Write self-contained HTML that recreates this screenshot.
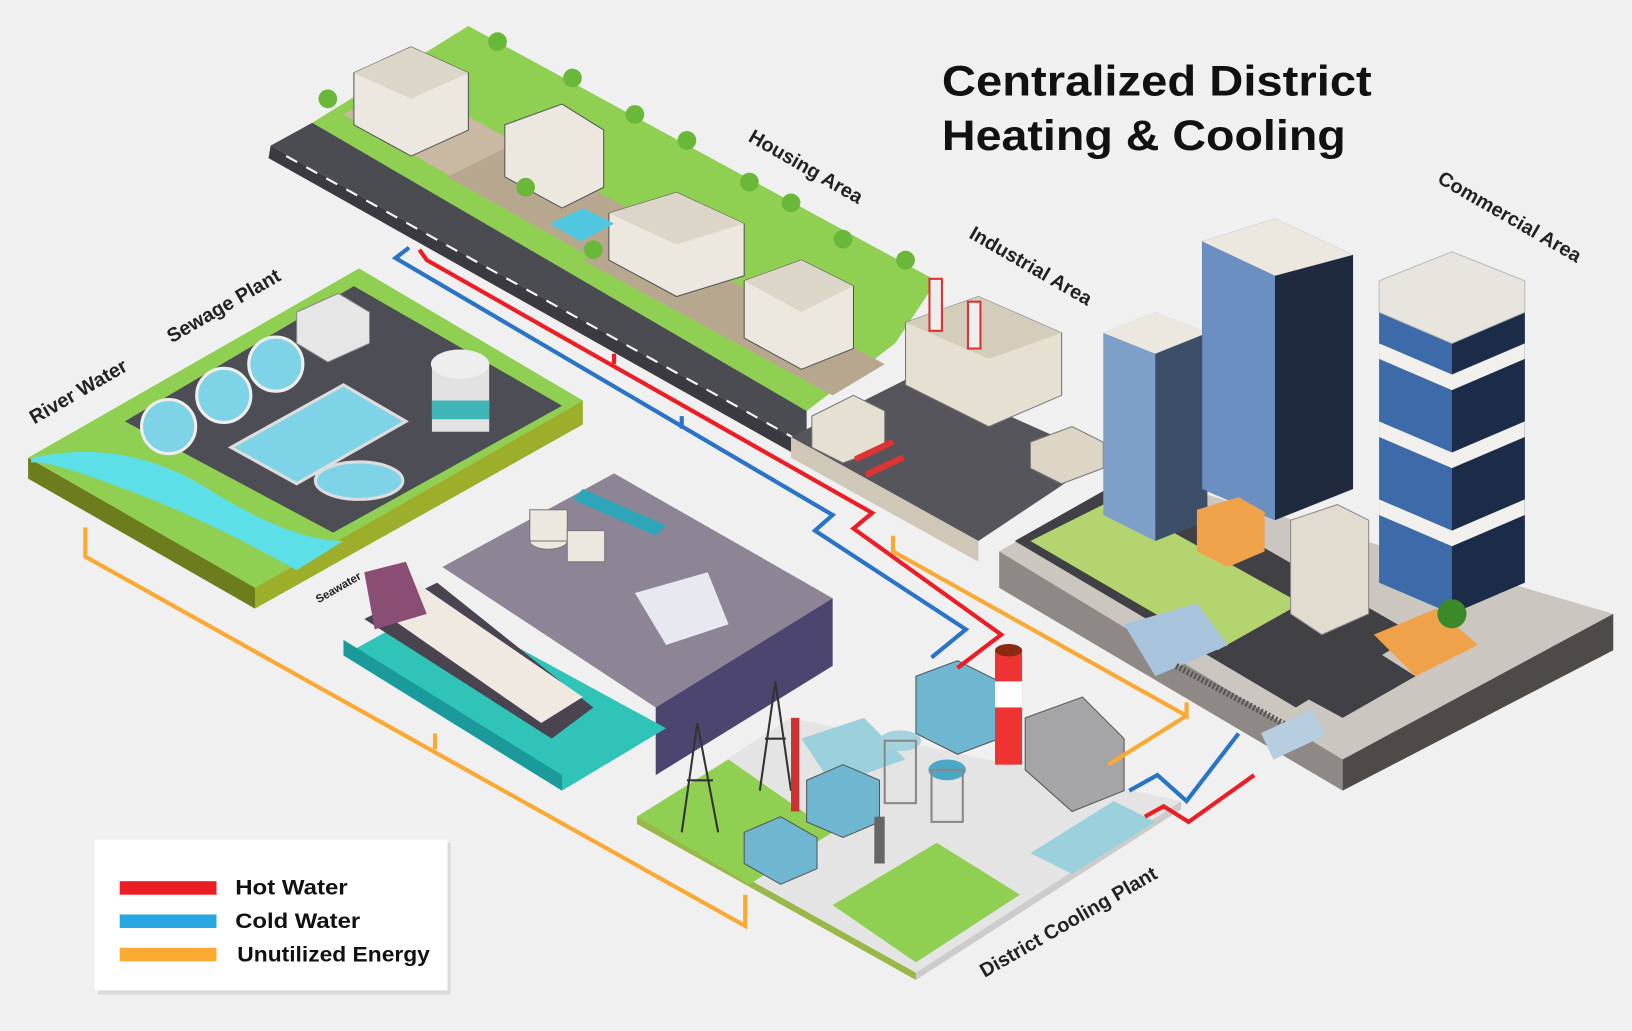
<!DOCTYPE html>
<html><head><meta charset="utf-8"><style>
html,body{margin:0;padding:0;background:#f0f0f0;}
svg{display:block;}
text{font-family:"Liberation Sans",sans-serif;font-weight:bold;}
</style></head><body>
<svg width="1632" height="1031" viewBox="0 0 1568 991" preserveAspectRatio="none" xmlns="http://www.w3.org/2000/svg">
<rect width="1568" height="991" fill="#f0f0f1"/>

<!-- Housing area -->
<polygon points="300,118 450,25 900,270 860,330 775,395" fill="#8fcf52"/>
<polygon points="260,140 300,118 775,395 775,428" fill="#4b4b52"/>
<polygon points="260,140 775,428 770,440 258,152" fill="#3a3a40"/>
<polyline points="275,150 770,425" stroke="#fff" stroke-width="2" stroke-dasharray="12,10" fill="none"/>
<polygon points="330,110 460,185 520,150 390,80" fill="#c9b9a3"/>
<polygon points="430,170 600,265 660,230 490,140" fill="#b8a78f"/>
<polygon points="560,250 800,380 850,350 610,220" fill="#b8a78f"/>
<g fill="#ece8df" stroke="#555" stroke-width="1">
<polygon points="340,70 395,45 450,70 450,125 395,150 340,120"/>
<polygon points="485,120 540,100 580,125 580,180 540,200 485,170"/>
<polygon points="585,205 650,185 715,215 715,265 650,285 585,250"/>
<polygon points="715,270 770,250 820,275 820,335 770,355 715,325"/>
</g>
<g fill="#dcd6c8"><polygon points="340,70 395,45 450,70 395,95"/><polygon points="585,205 650,185 715,215 650,235"/><polygon points="715,270 770,250 820,275 770,300"/></g>
<g fill="#6ab83a"><circle cx="478" cy="40" r="9"/><circle cx="550" cy="75" r="9"/><circle cx="610" cy="110" r="9"/><circle cx="660" cy="135" r="9"/><circle cx="720" cy="175" r="9"/><circle cx="760" cy="195" r="9"/><circle cx="810" cy="230" r="9"/><circle cx="870" cy="250" r="9"/><circle cx="315" cy="95" r="9"/><circle cx="505" cy="180" r="9"/><circle cx="570" cy="240" r="9"/></g>
<polygon points="528,215 560,200 590,215 558,232" fill="#4fc7df"/>

<!-- Industrial area -->
<polygon points="760,420 880,360 1060,440 940,520" fill="#55555b"/>
<polygon points="760,420 940,520 940,540 760,440" fill="#cfc8b8"/>
<polygon points="870,310 940,285 1020,320 1020,380 950,410 870,370" fill="#e6e0d3" stroke="#777"/>
<polygon points="870,310 940,285 1020,320 950,345" fill="#d4cdbc"/>
<rect x="893" y="268" width="12" height="50" fill="#eee" stroke="#d33" stroke-width="2"/>
<rect x="930" y="290" width="12" height="45" fill="#eee" stroke="#d33" stroke-width="2"/>
<polygon points="780,400 820,380 850,395 850,430 810,445 780,430" fill="#e6e0d3" stroke="#777"/>
<polygon points="990,425 1030,410 1060,425 1060,450 1020,465 990,450" fill="#ddd6c6" stroke="#777"/>
<g fill="#d33"><rect x="820" y="430" width="40" height="6" transform="rotate(-25 840 433)"/><rect x="830" y="445" width="40" height="6" transform="rotate(-25 850 448)"/></g>

<!-- Commercial area -->
<polygon points="960,530 1090,455 1550,590 1290,730" fill="#cbc6c0"/>
<polygon points="960,530 1290,730 1290,760 960,565" fill="#8e8984"/>
<polygon points="1290,730 1550,590 1550,625 1290,760" fill="#4e4a47"/>
<polygon points="975,520 1090,455 1360,610 1245,680" fill="#404045"/>
<polygon points="990,520 1070,480 1250,580 1170,625" fill="#b3d46e"/>
<polygon points="1170,625 1250,580 1360,650 1290,690" fill="#404045"/>
<polygon points="1060,320 1110,300 1160,320 1160,500 1110,520 1060,495" fill="#7ea0c8"/>
<polygon points="1110,320 1160,320 1160,500 1110,520" fill="#3d4e68"/>
<polygon points="1060,320 1110,300 1160,320 1110,340" fill="#ece8e0"/>
<polygon points="1155,232 1225,210 1300,245 1300,470 1225,500 1155,470" fill="#1f2a3e"/>
<polygon points="1155,232 1225,255 1225,500 1155,470" fill="#6b8fc0"/>
<polygon points="1155,232 1225,210 1300,245 1225,265" fill="#ece8e0"/>
<polygon points="1325,270 1395,242 1465,270 1465,560 1395,590 1325,560" fill="#3d6aa8"/>
<polygon points="1395,300 1465,270 1465,560 1395,590" fill="#1c2c48"/>
<g fill="#f2f0ec">
<polygon points="1325,330 1395,360 1465,330 1465,345 1395,375 1325,345"/>
<polygon points="1325,405 1395,435 1465,405 1465,420 1395,450 1325,420"/>
<polygon points="1325,480 1395,510 1465,480 1465,495 1395,525 1325,495"/>
</g>
<polygon points="1325,270 1395,242 1465,270 1465,300 1395,330 1325,300" fill="#e8e5df" stroke="#bbb"/>
<polygon points="1240,500 1285,485 1315,500 1315,590 1270,610 1240,590" fill="#e2dcd0" stroke="#888"/>
<polygon points="1150,490 1190,478 1215,492 1215,530 1180,545 1150,530" fill="#f0a24a"/>
<polygon points="1320,610 1380,585 1420,620 1360,650" fill="#f0a24a"/>
<polygon points="1080,600 1150,580 1180,620 1110,650" fill="#a8c3dc"/>
<polyline points="1130,640 1260,710" stroke="#555" stroke-width="6" stroke-dasharray="2,2"/>
<rect x="1215" y="692" width="55" height="28" fill="#b7cde0" transform="rotate(-25 1242 706)"/>
<circle cx="1395" cy="590" r="14" fill="#3a8a2a"/>

<!-- Sewage plant -->
<polygon points="27,440 345,258 560,385 245,565" fill="#8fcf52"/>
<polygon points="27,440 245,565 245,585 27,460" fill="#6d7d1e"/>
<polygon points="245,565 560,385 560,408 245,585" fill="#9dae2a"/>
<polygon points="120,405 340,275 540,390 320,512" fill="#4d4d55"/>
<path d="M30,440 Q120,420 200,470 T330,520 L285,548 Q200,500 120,470 T30,445 Z" fill="#5ddfe8"/>
<g fill="#7fd3e6" stroke="#eee" stroke-width="3"><circle cx="162" cy="410" r="26"/><circle cx="215" cy="380" r="26"/><circle cx="265" cy="350" r="26"/></g>
<polygon points="222,430 330,370 390,405 285,465" fill="#7fd3e6" stroke="#ddd" stroke-width="3"/>
<ellipse cx="345" cy="462" rx="42" ry="18" fill="#7fd3e6" stroke="#ddd" stroke-width="3"/>
<rect x="415" y="350" width="55" height="65" fill="#e2e2e2"/><rect x="415" y="385" width="55" height="18" fill="#3fb5b8"/><ellipse cx="442" cy="350" rx="28" ry="14" fill="#eee"/>
<polygon points="285,300 325,282 355,300 355,330 315,348 285,330" fill="#e6e6e6" stroke="#888"/>

<!-- Port -->
<polygon points="425,545 590,455 800,575 630,680" fill="#8d8595"/>
<polygon points="630,680 800,575 800,640 630,745" fill="#4c4570"/>
<polygon points="330,630 420,580 640,700 540,760" fill="#2fc4b7"/>
<polygon points="330,630 540,760 540,745 330,615" fill="#1a9a9a"/>
<polygon points="350,595 420,560 570,680 530,710" fill="#4a4450"/>
<polygon points="355,580 400,560 560,670 520,695" fill="#efe9e2"/>
<polygon points="350,550 390,540 410,590 360,605" fill="#8a4d74"/>
<g fill="#ece7df" stroke="#777"><ellipse cx="527" cy="520" rx="18" ry="8"/><rect x="509" y="490" width="36" height="30"/><rect x="545" y="510" width="36" height="30"/></g>
<polygon points="560,470 640,505 630,515 550,480" fill="#2ea5b8"/>
<polygon points="610,570 680,550 700,600 640,620" fill="#e8e8f0"/>

<!-- District cooling plant -->
<polygon points="612,785 760,690 1135,770 880,935" fill="#e4e4e4"/>
<polygon points="612,785 880,935 880,942 612,792" fill="#9ab84a"/>
<polygon points="880,935 1135,770 1135,778 880,942" fill="#ccc"/>
<polygon points="612,785 700,730 800,800 720,850" fill="#8fcf52"/>
<polygon points="800,870 900,810 980,860 880,925" fill="#8fcf52"/>
<polygon points="770,710 830,690 870,730 800,755" fill="#9bd1dc"/>
<polygon points="990,820 1070,770 1110,790 1030,840" fill="#9bd1dc"/>
<polygon points="880,650 920,635 960,655 960,710 920,725 880,705" fill="#6fb7d1" stroke="#555"/>
<rect x="956" y="625" width="26" height="110" fill="#e33"/><rect x="956" y="655" width="26" height="25" fill="#fff"/><ellipse cx="969" cy="625" rx="13" ry="6" fill="#8a2a10"/>
<polygon points="985,690 1040,670 1080,710 1080,760 1030,780 985,740" fill="#a5a5a8" stroke="#555"/>
<polygon points="775,750 810,735 845,750 845,790 810,805 775,790" fill="#6fb7d1" stroke="#555"/>
<polygon points="715,800 750,785 785,805 785,835 750,850 715,830" fill="#6fb7d1" stroke="#555"/>
<ellipse cx="865" cy="712" rx="20" ry="10" fill="#a6d1de"/><rect x="850" y="712" width="30" height="60" fill="none" stroke="#888" stroke-width="2"/>
<ellipse cx="910" cy="740" rx="18" ry="10" fill="#4aa9c6"/><rect x="895" y="740" width="30" height="50" fill="none" stroke="#888" stroke-width="2"/>
<g stroke="#333" stroke-width="2" fill="none"><path d="M670,695 L655,800 M670,695 L690,800 M660,750 L685,750"/><path d="M745,655 L730,760 M745,655 L760,760 M735,710 L755,710"/></g>
<rect x="760" y="690" width="8" height="90" fill="#c33"/>
<rect x="840" y="785" width="10" height="45" fill="#666"/>

<!-- Pipes -->
<g fill="none" stroke-width="4" stroke-linejoin="miter">
<polyline stroke="#ec1d24" points="403,240 410,250 838,493 820,508 962,610 920,642"/>
<polyline stroke="#2a74c6" points="393,238 380,248 800,495 783,510 928,605 895,632"/>
<polyline stroke="#ec1d24" points="1100,785 1118,775 1142,790 1205,745"/>
<polyline stroke="#2a74c6" points="1085,760 1112,745 1140,770 1190,705"/>
<polyline stroke="#faa932" points="858,515 858,530 1140,688 1140,675"/>
<polyline stroke="#faa932" points="1140,688 1065,735"/>
<polyline stroke="#faa932" points="82,507 82,535 716,890 716,860"/>
<polyline stroke="#faa932" points="418,720 418,705"/>
<polyline stroke="#ec1d24" points="590,350 590,340"/>
<polyline stroke="#2a74c6" points="655,400 655,412"/>
</g>

<!-- Title -->
<text x="905" y="92" font-size="41" fill="#111" textLength="413" lengthAdjust="spacingAndGlyphs">Centralized District</text>
<text x="905" y="144" font-size="41" fill="#111" textLength="388" lengthAdjust="spacingAndGlyphs">Heating &amp; Cooling</text>

<!-- Area labels -->
<text x="718" y="135" font-size="19" fill="#222" transform="rotate(30 718 135)">Housing Area</text>
<text x="930" y="228" font-size="19" fill="#222" transform="rotate(30 930 228)">Industrial Area</text>
<text x="1380" y="175" font-size="19" fill="#222" transform="rotate(30 1380 175)">Commercial Area</text>
<text x="33" y="408" font-size="19" fill="#222" transform="rotate(-30 33 408)">River Water</text>
<text x="165" y="330" font-size="19" fill="#222" transform="rotate(-30 165 330)">Sewage Plant</text>
<text x="306" y="580" font-size="11" fill="#222" transform="rotate(-30 306 580)">Seawater</text>
<text x="946" y="940" font-size="19" fill="#222" transform="rotate(-30 946 940)">District Cooling Plant</text>

<!-- Legend -->
<rect x="94" y="810" width="339" height="146" fill="#999" opacity="0.25"/>
<rect x="91" y="807" width="339" height="145" fill="#fff"/>
<rect x="115" y="847" width="93" height="13" fill="#ec1d24"/>
<rect x="115" y="879" width="93" height="13" fill="#29a6e0"/>
<rect x="115" y="911" width="93" height="13" fill="#faa932"/>
<text x="226" y="860" font-size="20" fill="#111" textLength="108" lengthAdjust="spacingAndGlyphs">Hot Water</text>
<text x="226" y="892" font-size="20" fill="#111" textLength="120" lengthAdjust="spacingAndGlyphs">Cold Water</text>
<text x="228" y="924" font-size="20" fill="#111" textLength="185" lengthAdjust="spacingAndGlyphs">Unutilized Energy</text>
</svg>
</body></html>
